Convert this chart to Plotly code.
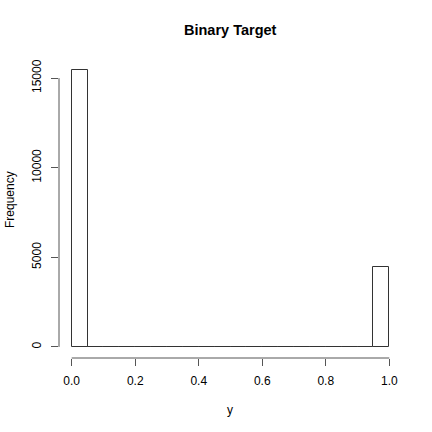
import plotly.graph_objects as go

# histogram of a binary target, 20 bins of width 0.05
bin_left = [i * 0.05 for i in range(20)]
counts = [15450, 0, 0, 0, 0, 0, 0, 0, 0, 0, 0, 0, 0, 0, 0, 0, 0, 0, 0, 4480]
x_ticks = [0.0, 0.2, 0.4, 0.6, 0.8, 1.0]
x_ticklabels = ["0.0", "0.2", "0.4", "0.6", "0.8", "1.0"]
y_ticks = [0, 5000, 10000, 15000]

ymax = max(counts)
font = "Liberation Sans, Arial, Helvetica, sans-serif"

W, H = 432, 432
L, R, T, B = 59, 30, 59, 74
pw, ph = W - L - R, H - T - B

fig = go.Figure()
fig.add_trace(go.Bar(
    x=[b + 0.025 for b in bin_left],
    y=counts,
    width=0.05,
    marker=dict(color="white", line=dict(color="#333333", width=1)),
    showlegend=False,
))

# R style axis lines that only run from first to last tick
fig.add_shape(type="line", xref="x", yref="paper", x0=x_ticks[0], x1=x_ticks[-1], y0=0, y1=0,
              line=dict(color="#555555", width=1))
fig.add_shape(type="line", xref="paper", yref="y", x0=0, x1=0, y0=y_ticks[0], y1=y_ticks[-1],
              line=dict(color="#555555", width=1))

fig.update_layout(
    width=W, height=H,
    margin=dict(l=L, r=R, t=T, b=B, autoexpand=False),
    plot_bgcolor="white", paper_bgcolor="white",
    font=dict(family=font, size=12, color="black"),
    bargap=0,
    xaxis=dict(range=[-0.04, 1.04], tickvals=x_ticks, ticktext=x_ticklabels,
               ticks="outside", ticklen=7, tickcolor="#555555", showgrid=False,
               zeroline=False, showline=False, ticklabelstandoff=5, automargin=False),
    yaxis=dict(range=[-0.04 * ymax, 1.04 * ymax], tickvals=y_ticks,
               ticks="outside", ticklen=7, tickcolor="#555555", showgrid=False,
               zeroline=False, showline=False, tickangle=-90, tickformat="d",
               ticklabelstandoff=5, automargin=False),
    annotations=[
        dict(text="<b>Binary Target</b>", x=(230 - L) / pw, y=1 + (T - 30) / ph,
             xref="paper", yref="paper", xanchor="center", yanchor="middle",
             showarrow=False, font=dict(size=14.5)),
        dict(text="y", x=(230 - L) / pw, y=-(410 - (H - B)) / ph, xref="paper", yref="paper",
             xanchor="center", yanchor="middle", showarrow=False, font=dict(size=12)),
        dict(text="Frequency", textangle=-90, x=-(L - 10) / pw, y=1 - (200 - T) / ph,
             xref="paper", yref="paper", xanchor="center", yanchor="middle",
             showarrow=False, font=dict(size=12)),
    ],
)
fig.write_html("out.html", config={"displayModeBar": False},
               post_script="document.body.style.margin='0';")
